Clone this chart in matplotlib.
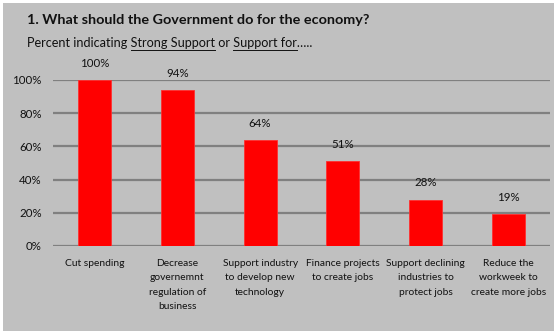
import matplotlib
matplotlib.use("Agg")
import matplotlib.pyplot as plt
from matplotlib.patches import Rectangle

categories = ["Cut spending",
              "Decrease\ngovernemnt\nregulation of\nbusiness",
              "Support industry\nto develop new\ntechnology",
              "Finance projects\nto create jobs",
              "Support declining\nindustries to\nprotect jobs",
              "Reduce the\nworkweek to\ncreate more jobs"]
values = [100, 94, 64, 51, 28, 19]
yticks = [0, 20, 40, 60, 80, 100]

plt.rcParams['font.family'] = ['Lato', 'DejaVu Sans']
W, H = 554, 331
fig = plt.figure(figsize=(W/100, H/100), dpi=100)
fig.patch.set_facecolor('white')
bg = '#c0c0c0'
fig.patches.append(Rectangle((3/W, 0), 1, 1 - 3/H, transform=fig.transFigure,
                             facecolor=bg, edgecolor='none', zorder=-10))

ax = fig.add_axes([53/W, 1 - 246/H, (550-53)/W, (246-80)/H])
ax.set_facecolor(bg)
x = list(range(len(categories)))
ax.bar(x, values, width=0.4, color='#ff0000', edgecolor='#ff3030', linewidth=0.6, zorder=3)
ax.set_xlim(-0.5, len(categories) - 0.5)
ax.set_ylim(0, 100)
ax.set_yticks(yticks)
ax.set_yticklabels([f"{v}%" for v in yticks], fontsize=8.3, color='#111111')
ax.yaxis.grid(True, color='#808080', linewidth=1.6, zorder=1)
ax.tick_params(axis='both', length=0)
ax.tick_params(axis='y', pad=8)
for s in ax.spines.values():
    s.set_visible(False)
ax.set_xticks(x)
ax.set_xticklabels(categories, fontsize=7.4, linespacing=1.8, color='#111111')
ax.tick_params(axis='x', pad=9)
for xi, v in zip(x, values):
    ax.annotate(f"{v}%", (xi, v), xytext=(0, 8), textcoords='offset points',
                ha='center', va='bottom', fontsize=8.3, color='#111111', clip_on=False)

fig.text(27/W, 1 - 24/H, "1. What should the Government do for the economy?",
         fontsize=10.4, fontweight='bold', color='#111111', ha='left', va='baseline')

parts = [("Percent indicating ", False), ("Strong Support", True), (" or ", False),
         ("Support for", True), ("\u2026..", False)]
full = "".join(p for p, _ in parts)
fs_sub = 9.1
y_sub = 1 - 47/H
fig.text(27/W, y_sub, full, fontsize=fs_sub, color='#111111', ha='left', va='baseline')
fig.canvas.draw()
r = fig.canvas.get_renderer()

def width(s):
    a = fig.text(0, 0, s + "x", fontsize=fs_sub)
    b = fig.text(0, 0, "x", fontsize=fs_sub)
    w = a.get_window_extent(renderer=r).width - b.get_window_extent(renderer=r).width
    a.remove(); b.remove()
    return w

prefix = ""
for txt, ul in parts:
    if ul:
        x0 = 27 + width(prefix)
        x1 = 27 + width(prefix + txt)
        fig.lines.append(plt.Line2D([x0/W, x1/W], [1 - 49.5/H, 1 - 49.5/H],
                                    transform=fig.transFigure, color='#111111', linewidth=0.7))
    prefix += txt

fig.savefig("out.png", dpi=100, facecolor=fig.get_facecolor())
